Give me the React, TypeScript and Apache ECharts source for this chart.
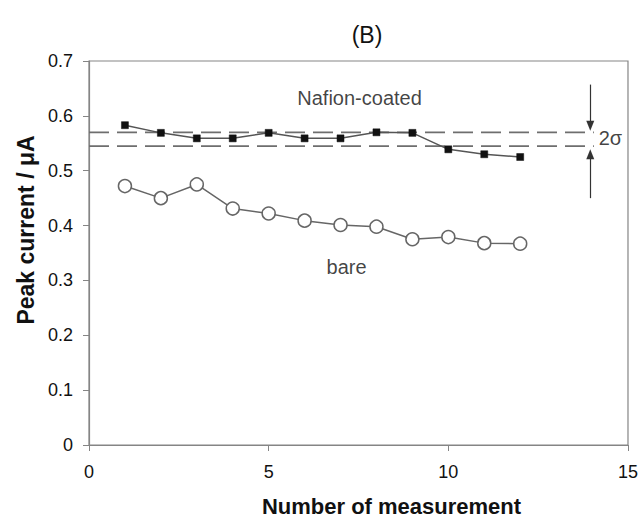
import React, { useEffect, useRef } from "react";
import * as echarts from "echarts";

// Measurement index
const measurements = [1, 2, 3, 4, 5, 6, 7, 8, 9, 10, 11, 12];
// Peak current (µA)
const nafionCoated = [0.583, 0.569, 0.559, 0.559, 0.569, 0.559, 0.559, 0.570, 0.569, 0.539, 0.530, 0.525];
const bare = [0.472, 0.450, 0.475, 0.431, 0.422, 0.409, 0.401, 0.398, 0.375, 0.379, 0.368, 0.367];

// 2σ band
const sigmaX = [0, 14.05];
const sigmaUpper = 0.570;
const sigmaLower = 0.545;
const arrowX = 13.95;
const downArrow = [0.657, 0.582];
const upArrow = [0.450, 0.530];

// Ticks
const xTicks = { min: 0, max: 15, interval: 5 };
const yTicks = { min: 0, max: 0.7, interval: 0.1 };

// Annotations
const annotations = [
  { name: "Nafion-coated", x: 7.53, y: 0.633 },
  { name: "bare", x: 7.17, y: 0.325 },
  { name: "2σ", x: 14.51, y: 0.559 },
];

const FONT = "'Liberation Sans', Arial, Helvetica, sans-serif";
const AXIS_COLOR = "#858585";

export default function App() {
  const ref = useRef<HTMLDivElement>(null);

  useEffect(() => {
    if (!ref.current) return;
    const chart = echarts.init(ref.current, null, { renderer: "svg" });
    chart.setOption({
      animation: false,
      backgroundColor: "#ffffff",
      title: {
        text: "(B)",
        left: 362,
        top: 18,
        textAlign: "center",
        textStyle: { fontFamily: FONT, fontSize: 23, fontWeight: "normal", color: "#111" },
      },
      grid: {
        left: 89,
        right: 12,
        top: 61,
        bottom: 75,
        show: true,
        borderColor: AXIS_COLOR,
        borderWidth: 1.2,
        backgroundColor: "transparent",
      },
      xAxis: {
        type: "value",
        min: xTicks.min,
        max: xTicks.max,
        interval: xTicks.interval,
        name: "Number of measurement",
        nameLocation: "middle",
        nameGap: 50,
        nameTextStyle: {
          fontFamily: FONT,
          fontSize: 22,
          fontWeight: "bold",
          color: "#111",
          padding: [0, 0, 0, 66],
        },
        axisLine: { show: true, lineStyle: { color: AXIS_COLOR, width: 1.2 } },
        axisTick: { show: true, inside: false, length: 6, lineStyle: { color: AXIS_COLOR } },
        axisLabel: { fontFamily: FONT, fontSize: 18, color: "#111", margin: 18 },
        splitLine: { show: false },
      },
      yAxis: {
        type: "value",
        min: yTicks.min,
        max: yTicks.max,
        interval: yTicks.interval,
        name: "Peak current / μA",
        nameLocation: "middle",
        nameGap: 52,
        nameRotate: 90,
        nameTextStyle: {
          fontFamily: FONT,
          fontSize: 23,
          fontWeight: "bold",
          color: "#111",
          padding: [0, 0, 0, 46],
        },
        axisLine: { show: true, lineStyle: { color: AXIS_COLOR, width: 1.2 } },
        axisTick: { show: true, inside: false, length: 6, lineStyle: { color: AXIS_COLOR } },
        axisLabel: { fontFamily: FONT, fontSize: 18, color: "#111", margin: 16 },
        splitLine: { show: false },
      },
      series: [
        {
          name: "upper",
          type: "line",
          data: sigmaX.map((x) => [x, sigmaUpper]),
          symbol: "none",
          silent: true,
          lineStyle: { color: "#6e6e6e", width: 1.8, type: [20, 8] },
          markLine: {
            silent: true,
            symbol: ["none", "triangle"],
            symbolSize: [8, 10],
            label: { show: false },
            lineStyle: { color: "#333", width: 1.2, type: "solid" },
            data: [
              [{ coord: [arrowX, downArrow[0]] }, { coord: [arrowX, downArrow[1]] }],
              [{ coord: [arrowX, upArrow[0]] }, { coord: [arrowX, upArrow[1]] }],
            ],
          },
        },
        {
          name: "lower",
          type: "line",
          data: sigmaX.map((x) => [x, sigmaLower]),
          symbol: "none",
          silent: true,
          lineStyle: { color: "#6e6e6e", width: 1.8, type: [20, 8] },
        },
        {
          name: "Nafion-coated",
          type: "line",
          data: measurements.map((m, i) => [m, nafionCoated[i]]),
          symbol: "rect",
          symbolSize: 7,
          showAllSymbol: true,
          lineStyle: { color: "#555", width: 1.5 },
          itemStyle: { color: "#111", borderColor: "#111", borderWidth: 0.5 },
        },
        {
          name: "bare",
          type: "line",
          data: measurements.map((m, i) => [m, bare[i]]),
          symbol: "circle",
          symbolSize: 13,
          showAllSymbol: true,
          lineStyle: { color: "#666", width: 1.5 },
          itemStyle: { color: "#fff", borderColor: "#666", borderWidth: 1.5 },
        },
        {
          name: "annotations",
          type: "scatter",
          silent: true,
          symbolSize: 1,
          itemStyle: { color: "transparent" },
          data: annotations.map((a) => ({ name: a.name, value: [a.x, a.y] })),
          label: {
            show: true,
            position: "inside",
            formatter: "{b}",
            fontFamily: FONT,
            fontSize: 20,
            color: "#111",
          },
        },
      ],
    });
    return () => chart.dispose();
  }, []);

  return (
    <div
      ref={ref}
      style={{ position: "absolute", left: 0, top: 0, width: 641, height: 522 }}
    />
  );
}
